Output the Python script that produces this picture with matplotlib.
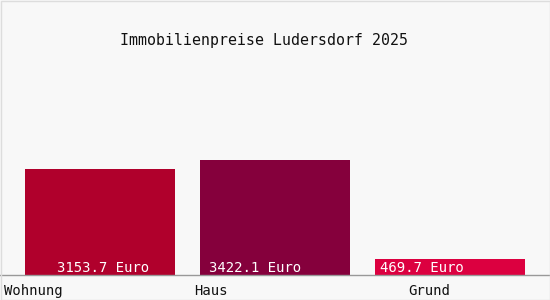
import matplotlib
matplotlib.use("Agg")
import matplotlib.pyplot as plt

categories = ["Wohnung", "Haus", "Grund"]
values = [3153.7, 3422.1, 469.7]
value_labels = ["3153.7 Euro", "3422.1 Euro", "469.7 Euro"]
colors = ["#b0002c", "#85003c", "#dc0040"]
title = "Immobilienpreise Ludersdorf 2025"

W, H = 550, 300
fig = plt.figure(figsize=(W / 100, H / 100), dpi=100, facecolor="#f8f8f8")
# axes: baseline at y=275 px, top at y=60 px, full width
ax = fig.add_axes([0, 25 / H, 1, 215 / H])
ax.set_facecolor("#f8f8f8")
pos = list(range(len(categories)))
ax.bar(pos, values, width=150 / 175, color=colors, align="center")
ax.set_xlim(-100 / 175, 2 + 100 / 175)
ax.set_ylim(0, 215 * 3422.1 / 115)
for s in ["top", "right", "left"]:
    ax.spines[s].set_visible(False)
ax.spines["bottom"].set_color("#999999")
ax.spines["bottom"].set_linewidth(1)
ax.set_xticks([])
ax.set_yticks([])

mono = "DejaVu Sans Mono"
# value labels (offset of text centre from bar centre, in category units)
label_offsets = [0.02, -0.115, -0.16]
for p, lab, off in zip(pos, value_labels, label_offsets):
    ax.text(p + off, 0, lab, ha="center", va="bottom",
            color="white", fontsize=10.1, family=mono)

# category labels
cat_x = [4, 194, 408]
for c, x in zip(categories, cat_x):
    fig.text(x / W, 1 - 295 / H, c, ha="left", va="baseline", fontsize=10,
             family=mono, color="#111111")

fig.text(263.5 / W, 1 - 45 / H, title, ha="center", va="baseline", fontsize=10.7,
         family=mono, color="#111111")

# faint border
fig.add_artist(plt.Rectangle((0.5 / W, 0.5 / H), 1 - 1 / W, 1 - 1 / H,
                             transform=fig.transFigure, fill=False,
                             edgecolor="#dddddd", linewidth=1))

fig.savefig("out.png", dpi=100, facecolor=fig.get_facecolor())
